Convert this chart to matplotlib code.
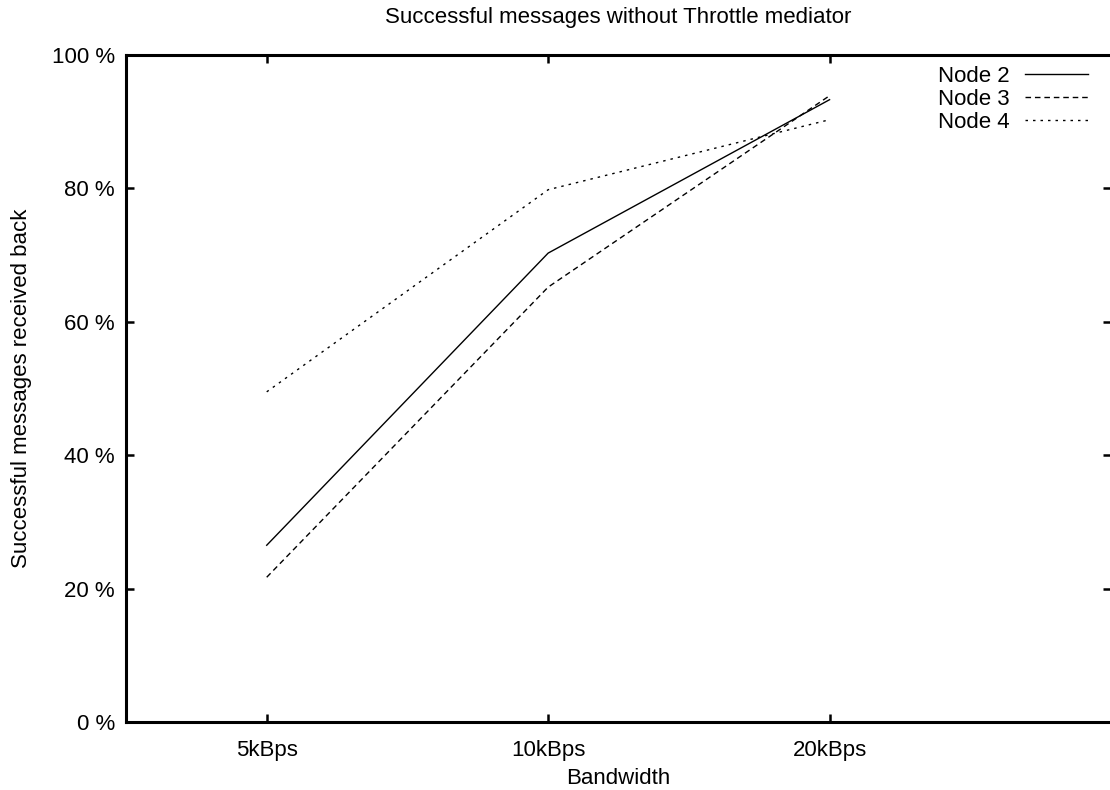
#!/usr/bin/python
#
# Successful messages without Throttle mediator -- gnuplot look-alike

import matplotlib
matplotlib.use("Agg")
import matplotlib.pyplot as plt

BANDWIDTH = ["5kBps", "10kBps", "20kBps"]
NODE2 = [26.5, 70.3, 93.3]
NODE3 = [21.7, 65.2, 93.9]
NODE4 = [49.5, 79.8, 90.3]
YTICKS = [0, 20, 40, 60, 80, 100]

plt.rcParams['font.family'] = ['Liberation Sans', 'DejaVu Sans']
FS = 16

fig = plt.figure(figsize=(11.1, 7.9), dpi=100)
W, H = 1110.0, 790.0
ax = fig.add_axes([126 / W, 1 - 722 / H, (1111 - 126) / W, (722 - 55) / H])

x = list(range(len(BANDWIDTH)))
ax.plot(x, NODE2, color='black', lw=1.0, label="Node 2")
ax.plot(x, NODE3, color='black', lw=1.0, linestyle=(0, (4.0, 2.8)), label="Node 3")
ax.plot(x, NODE4, color='black', lw=1.0, linestyle=(0, (1.8, 3.6)), label="Node 4")

ax.set_xlim(-0.5, 3.0)
ax.set_ylim(0, 100)
ax.set_xticks(x)
ax.set_xticklabels(BANDWIDTH)
ax.set_yticks(YTICKS)
ax.set_yticklabels([f"{v} %" for v in YTICKS])
ax.tick_params(direction='in', length=6, width=1.8, labelsize=FS,
               top=True, right=True)
ax.tick_params(axis='y', pad=8)
ax.tick_params(axis='x', pad=13)

for side in ['left', 'bottom', 'top']:
    ax.spines[side].set_linewidth(2.2)
ax.spines['right'].set_visible(False)

ax.set_title("Successful messages without Throttle mediator", fontsize=FS, pad=23)
ax.set_xlabel("Bandwidth", fontsize=FS, labelpad=5)
ax.set_ylabel("Successful messages received back", fontsize=FS, labelpad=14)

leg = ax.legend(loc='upper right', frameon=False, markerfirst=False,
                fontsize=FS, handlelength=2.85, handletextpad=0.68,
                labelspacing=0.08, borderpad=0.0, borderaxespad=0.0,
                bbox_to_anchor=(0.9766, 0.9835))

plt.savefig("out.png", dpi=100)
